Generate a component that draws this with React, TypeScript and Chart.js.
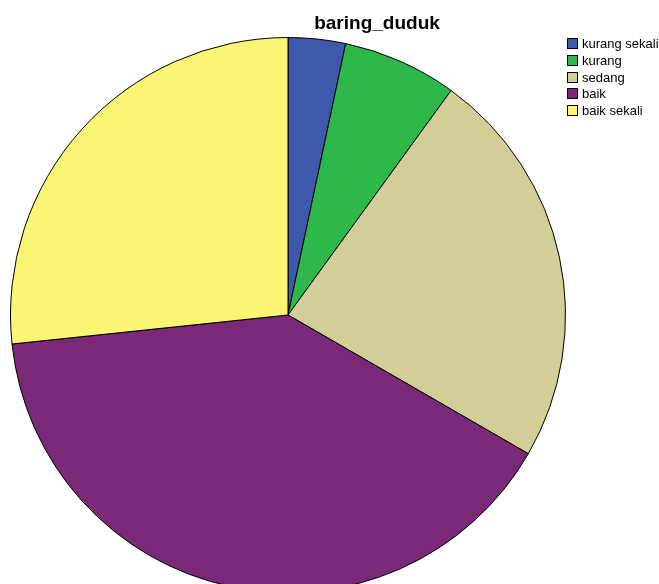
import React, { useEffect, useRef } from "react";
import { Chart, registerables } from "chart.js";

Chart.register(...registerables);

const categories = ["kurang sekali", "kurang", "sedang", "baik", "baik sekali"];
const counts = [1, 2, 7, 12, 8];
const colors = ["#3E58AC", "#2EB84A", "#D3CE98", "#7A2878", "#FBF574"];
const chartTitle = "baring_duduk";

const overlay = {
  id: "overlay",
  afterDraw(chart: any) {
    const ctx = chart.ctx;
    ctx.save();
    ctx.fillStyle = "#000";
    ctx.font = "bold 19px 'Liberation Sans', Arial, sans-serif";
    ctx.textAlign = "center";
    ctx.textBaseline = "alphabetic";
    ctx.fillText(chartTitle, 377, 29);
    ctx.font = "13px 'Liberation Sans', Arial, sans-serif";
    ctx.textAlign = "left";
    ctx.textBaseline = "middle";
    categories.forEach((c, i) => {
      const y = Math.round(44 + i * 16.8);
      ctx.fillStyle = colors[i];
      ctx.fillRect(567.5, y - 5.5, 10, 10);
      ctx.strokeStyle = "#000";
      ctx.lineWidth = 1;
      ctx.strokeRect(567.5, y - 5.5, 10, 10);
      ctx.fillStyle = "#000";
      ctx.fillText(c, 582, y);
    });
    ctx.restore();
  },
};

export default function App() {
  const ref = useRef<HTMLCanvasElement | null>(null);
  useEffect(() => {
    if (!ref.current) return;
    const chart = new Chart(ref.current, {
      type: "pie",
      data: {
        labels: categories,
        datasets: [
          {
            data: counts,
            backgroundColor: colors,
            borderColor: "#000",
            borderWidth: 1,
          },
        ],
      },
      options: {
        animation: false,
        responsive: false,
        maintainAspectRatio: false,
        layout: { padding: { left: 10, right: 93, top: 37, bottom: 47 } },
        plugins: {
          legend: { display: false },
          title: { display: false },
          tooltip: { enabled: false },
        },
      },
      plugins: [overlay],
    });
    return () => chart.destroy();
  }, []);
  return (
    <div
      style={{
        position: "fixed",
        left: 0,
        top: 0,
        width: 659,
        height: 584,
        overflow: "hidden",
        background: "#fff",
      }}
    >
      <canvas ref={ref} width={659} height={640} style={{ display: "block" }} />
    </div>
  );
}
